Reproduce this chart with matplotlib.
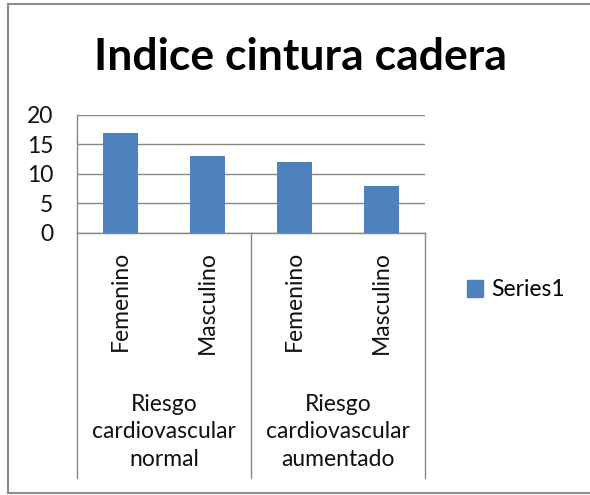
import matplotlib
matplotlib.use('Agg')
import matplotlib.pyplot as plt
from matplotlib.lines import Line2D

# Data
groups = ['Riesgo\ncardiovascular\nnormal', 'Riesgo\ncardiovascular\naumentado']
sexes = ['Femenino', 'Masculino', 'Femenino', 'Masculino']
values = [17, 13, 12, 8]
yticks = [0, 5, 10, 15, 20]
series_name = 'Series1'

W, H = 590, 495
BAR_COLOR = '#4F81BD'
LINE_COLOR = '#868686'
TEXT_COLOR = '#111111'
FONT = 'Lato'
BODY_SIZE = 16.5

plt.rcParams['font.family'] = [FONT, 'DejaVu Sans']

fig = plt.figure(figsize=(W / 100, H / 100), dpi=100)
fig.patch.set_facecolor('white')

# plot area in pixel terms
left, right, top, bottom = 77, 425, 115, 233
ax = fig.add_axes([left / W, 1 - bottom / H, (right - left) / W, (bottom - top) / H])

x = list(range(len(values)))
ax.bar(x, values, width=0.4, color=BAR_COLOR, zorder=3)

ax.set_xlim(-0.5, len(values) - 0.5)
ax.set_ylim(0, 20)
ax.set_yticks(yticks)
ax.set_yticklabels([str(t) for t in yticks], fontsize=BODY_SIZE, color=TEXT_COLOR)
ax.tick_params(axis='y', length=0, pad=17)
ax.set_xticks([])
ax.yaxis.grid(True, color=LINE_COLOR, linewidth=1, zorder=0)

for side in ['top', 'right']:
    ax.spines[side].set_visible(False)
for side in ['left', 'bottom']:
    ax.spines[side].set_color(LINE_COLOR)
    ax.spines[side].set_linewidth(1)

# multi-level category axis below the plot
axis_depth = (478 - bottom) / (bottom - top)
trans = ax.get_xaxis_transform()
for xb in [-0.5, 1.5, 3.5]:
    ax.plot([xb, xb], [0, -axis_depth], transform=trans, color=LINE_COLOR,
            linewidth=1, clip_on=False)

label_top = -(251 - bottom) / (bottom - top)
for xi, name in zip(x, sexes):
    ax.text(xi, label_top, name, transform=trans, rotation=90, ha='center', va='top',
            fontsize=BODY_SIZE, color=TEXT_COLOR)

group_y = -(432 - bottom) / (bottom - top)
for gi, name in enumerate(groups):
    ax.text(gi * 2 + 0.5, group_y, name, transform=trans, ha='center', va='center',
            fontsize=BODY_SIZE, linespacing=1.37, color=TEXT_COLOR)

# title
fig.text(301 / W, 1 - 70 / H, 'Indice cintura cadera', ha='center', va='baseline',
         fontsize=32, fontweight='bold')

# legend
handle = plt.Rectangle((0, 0), 1, 1, color=BAR_COLOR)
fig.legend([handle], [series_name], loc='center left',
           bbox_to_anchor=(467 / W, 1 - 290 / H), frameon=False, fontsize=BODY_SIZE,
           handlelength=0.7, handleheight=0.7, handletextpad=0.35, borderpad=0,
           borderaxespad=0)

# chart border
border = dict(color='#8c8c8c', linewidth=1.5, transform=fig.transFigure)
fig.add_artist(Line2D([8 / W, 8 / W], [1 - 4 / H, 1 - 493 / H], **border))
fig.add_artist(Line2D([8 / W, 1.0], [1 - 4 / H, 1 - 4 / H], **border))
fig.add_artist(Line2D([8 / W, 1.0], [1 - 493 / H, 1 - 493 / H], **border))

fig.savefig('out.png', dpi=100)
